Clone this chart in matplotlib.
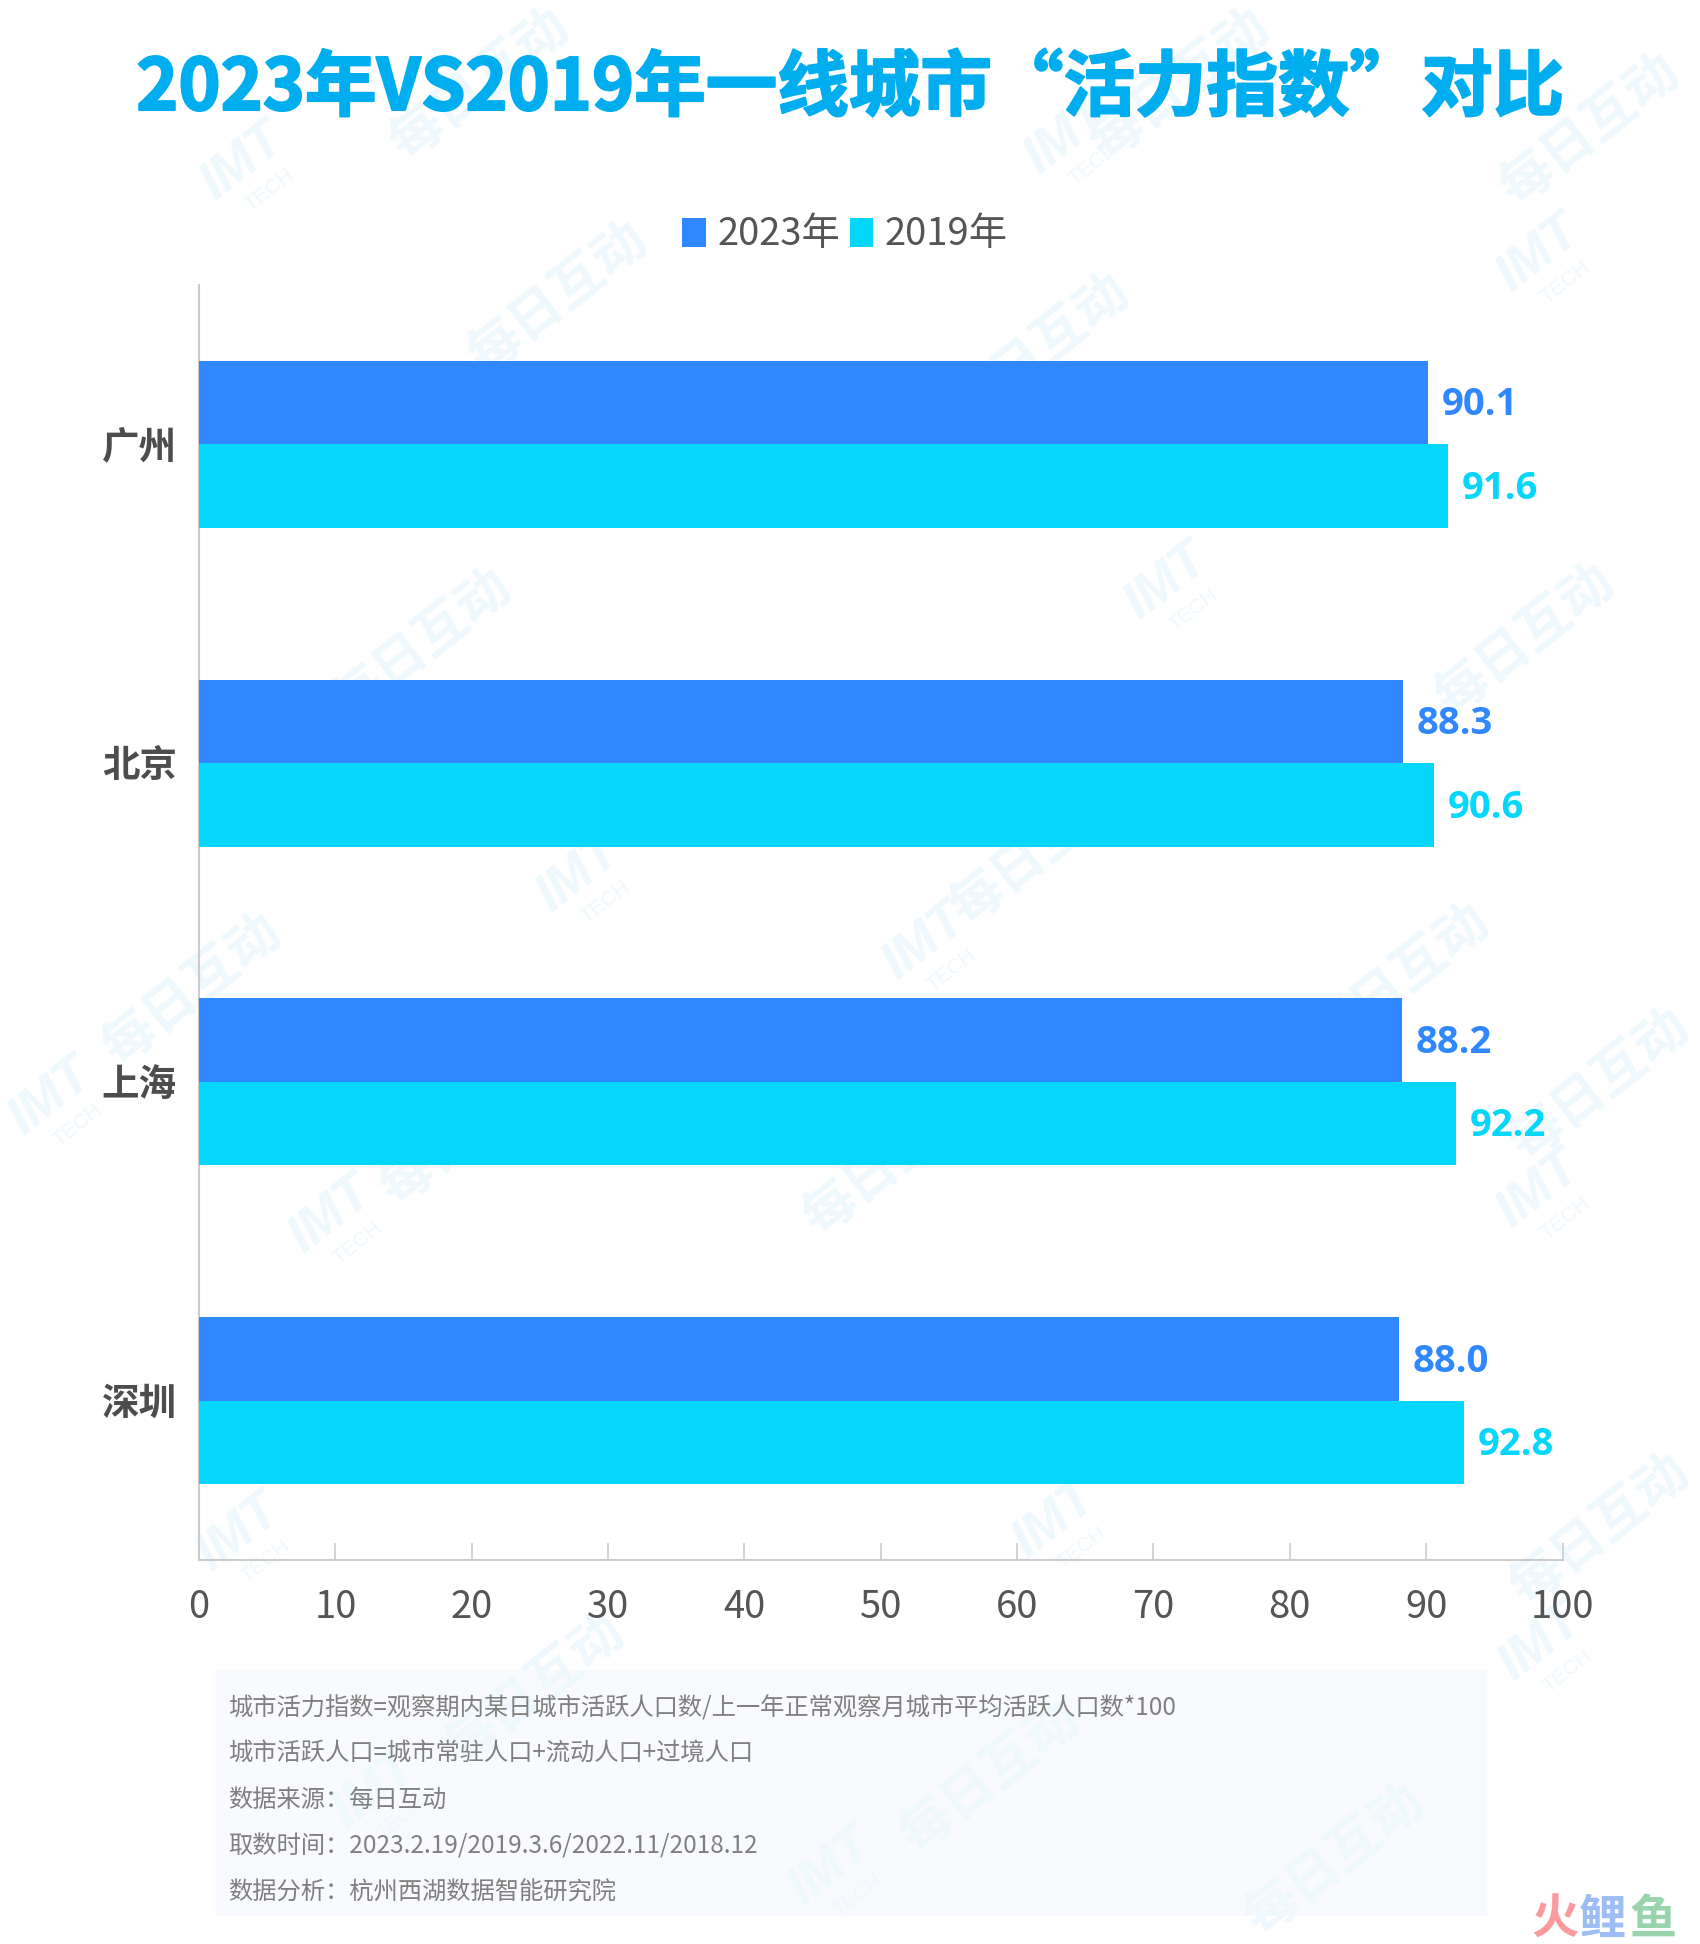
import matplotlib
matplotlib.use("Agg")
import matplotlib.pyplot as plt
import matplotlib.patheffects as pe
from matplotlib.patches import Rectangle
from matplotlib.transforms import ScaledTranslation

plt.rcParams['font.family'] = ['Noto Sans CJK SC', 'DejaVu Sans']

cities = ['广州', '北京', '上海', '深圳']
v2023 = [90.1, 88.3, 88.2, 88.0]
v2019 = [91.6, 90.6, 92.2, 92.8]
xticks = list(range(0, 101, 10))
title = '2023年VS2019年一线城市“活力指数”对比'
notes = ['城市活力指数=观察期内某日城市活跃人口数/上一年正常观察月城市平均活跃人口数*100',
         '城市活跃人口=城市常驻人口+流动人口+过境人口',
         '数据来源\uff1a每日互动',
         '取数时间\uff1a2023.2.19/2019.3.6/2022.11/2018.12',
         '数据分析\uff1a杭州西湖数据智能研究院']

W, H = 1700, 1944
C23, C19 = '#2F88FF', '#04D7FB'
fig = plt.figure(figsize=(W/100, H/100), dpi=100, facecolor='white')

def fx(x): return x / W
def fy(y): return 1 - y / H

ax = fig.add_axes([fx(199), fy(1560), (1562.5-199)/W, (1560-285)/H])
ax.patch.set_visible(False)
h = 0.262
ys = list(range(len(cities)))
b1 = ax.barh([y - h/2 for y in ys], v2023, height=h, color=C23, label='2023年', zorder=3)
b2 = ax.barh([y + h/2 for y in ys], v2019, height=h, color=C19, label='2019年', zorder=3)
ax.set_xlim(0, 100)
ax.set_ylim(3.5, -0.5)
ax.set_xticks(xticks)
ax.set_yticks(ys)
ax.set_yticklabels(cities, fontsize=27, fontweight='bold', color='#4d4d4d')
ax.tick_params(axis='y', length=0, pad=16)
shift = ScaledTranslation(0, 1.2/72, fig.dpi_scale_trans)
for lab in ax.get_yticklabels():
    lab.set_transform(lab.get_transform() + shift)
ax.tick_params(axis='x', direction='in', length=12, width=1.2, color='#cccccc',
               labelsize=27.5, labelcolor='#555555', pad=20.5)
for s in ('top', 'right'):
    ax.spines[s].set_visible(False)
for s in ('left', 'bottom'):
    ax.spines[s].set_color('#cccccc')
    ax.spines[s].set_linewidth(1.5)

for rects, vals, col in ((b1, v2023, C23), (b2, v2019, C19)):
    for r, v in zip(rects, vals):
        ax.annotate(f'{v:.1f}', (v, r.get_y() + r.get_height()/2), xytext=(10, -2),
                    textcoords='offset points', va='center', ha='left',
                    fontsize=27.5, fontweight='bold', color=col, family=['Open Sans', 'DejaVu Sans'])

fig.text(fx(850), fy(89), title, ha='center', va='center', fontsize=51.5, fontweight='bold',
         color='#00AEEF', path_effects=[pe.withStroke(linewidth=1.5, foreground='#00AEEF')])

leg = fig.legend(handles=[b1, b2], loc='center', bbox_to_anchor=(fx(845), fy(235)), ncol=2,
                 frameon=False, fontsize=27.5, labelcolor='#555555', handlelength=0.62,
                 handleheight=0.8, handletextpad=0.3, columnspacing=0.25, borderpad=0)

# note box
fig.patches.append(Rectangle((fx(215), fy(1916)), (1487-215)/W, (1916-1670)/H,
                             transform=fig.transFigure, facecolor='#F8FAFD', edgecolor='none', zorder=-3))
for t, y in zip(notes, [1708, 1754, 1800, 1846, 1893]):
    fig.text(fx(228), fy(y), t, ha='left', va='center', fontsize=17.5, color='#808080')

# watermark
WM = '#EEF8FD'
for x, y in [(558, 298), (422, 645), (192, 990), (1525, 640), (1590, 130), (1040, 850), (1400, 980),
             (1600, 1085), (990, 1777), (1335, 1860), (535, 1690), (1600, 1530), (1040, 350), (893, 1160),
             (470, 1130), (1180, 85), (480, 85)]:
    fig.text(fx(x), fy(y), '每日互动', rotation=38, ha='center', va='center', rotation_mode='anchor',
             fontsize=38, fontweight='bold', color=WM, zorder=-1)
for x, y in [(242, 162), (1066, 136), (1538, 254), (1166, 582), (578, 874), (924, 942), (50, 1097),
             (330, 1215), (1538, 1190), (238, 1533), (1054, 1520), (1540, 1643), (830, 1867), (374, 1790)]:
    fig.text(fx(x), fy(y), 'IMT', rotation=38, ha='center', va='center', rotation_mode='anchor',
             fontsize=38, fontweight='bold', style='italic', color=WM, zorder=-1,
             family=['Liberation Sans', 'DejaVu Sans'])
    fig.text(fx(x+28), fy(y+28), 'TECH', rotation=38, ha='center', va='center', rotation_mode='anchor',
             fontsize=15, color=WM, zorder=-1, family=['Liberation Sans', 'DejaVu Sans'])

# logo
for ch, x, c in [('火', 1555, '#FB9A9E'), ('鲤', 1603, '#9DBDF5'), ('鱼', 1653, '#9AD4AD')]:
    fig.text(fx(x), fy(1920), ch, ha='center', va='center', fontsize=34, fontweight='bold', color=c)

fig.savefig('out.png', dpi=100, facecolor='white')
